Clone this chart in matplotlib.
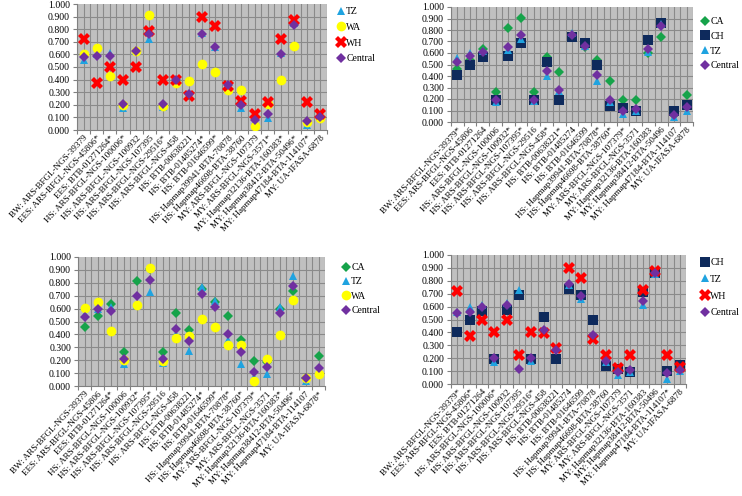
import matplotlib
matplotlib.use("Agg")
import matplotlib.pyplot as plt
import numpy as np

plt.rcParams["font.family"] = ["Liberation Serif", "DejaVu Serif"]

# 共通マーカー名 (アスタリスクはパネル毎に異なる)
markers_base = [
    "BW: ARS-BFGL-NGS-39379", "EES: ARS-BFGL-NGS-45806", "EES: BTB-01271264",
    "HS: ARS-BFGL-NGS-100006", "HS: ARS-BFGL-NGS-100932", "HS: ARS-BFGL-NGS-107395",
    "HS: ARS-BFGL-NGS-29516", "HS: ARS-BFGL-NGS-458", "HS: BTB-00638221",
    "HS: BTB-01485274", "HS: BTB-01646599", "HS: Hapmap39941-BTA-70878",
    "HS: Hapmap46698-BTA-38760", "MY: ARS-BFGL-NGS-107379", "MY: ARS-BFGL-NGS-3571",
    "MY: Hapmap32136-BTA-160383", "MY: Hapmap38412-BTA-50496",
    "MY: Hapmap47184-BTA-114107", "MY: UA-IFASA-6878",
]
star_tl = [0, 1, 1, 1, 0, 0, 1, 0, 0, 1, 1, 0, 0, 0, 1, 1, 1, 1, 0]
star_tr = [1, 0, 0, 0, 1, 1, 0, 1, 1, 0, 0, 1, 1, 1, 0, 0, 0, 0, 0]
star_bl = [0, 0, 1, 0, 1, 1, 0, 0, 0, 1, 1, 1, 1, 1, 0, 1, 1, 0, 1]
star_br = [1, 1, 0, 1, 0, 0, 1, 0, 0, 0, 0, 0, 0, 0, 0, 0, 0, 1, 0]

# 系列データ
tz = [0.557, 0.600, 0.615, 0.172, 0.630, 0.725, 0.180, 0.400, 0.270, 0.770,
      0.660, 0.360, 0.172, 0.070, 0.095, 0.612, 0.850, 0.040, 0.100]
wa = [0.602, 0.652, 0.430, 0.198, 0.630, 0.915, 0.190, 0.370, 0.385, 0.520,
      0.460, 0.315, 0.315, 0.035, 0.210, 0.395, 0.670, 0.065, 0.092]
wh = [0.724, 0.375, 0.500, 0.400, 0.500, 0.785, 0.400, 0.400, 0.268, 0.900,
      0.825, 0.350, 0.228, 0.125, 0.225, 0.725, 0.875, 0.225, 0.130]
wh_br = [0.724, 0.375, 0.500, 0.400, 0.500, 0.225, 0.400, 0.395, 0.280, 0.900,
         0.825, 0.345, 0.225, 0.125, 0.225, 0.725, 0.875, 0.225, 0.130]
ca = [0.460, 0.540, 0.632, 0.262, 0.815, 0.905, 0.262, 0.565, 0.433, 0.750,
      0.650, 0.540, 0.355, 0.195, 0.188, 0.600, 0.735, 0.060, 0.235]
ch = [0.405, 0.500, 0.568, 0.190, 0.570, 0.690, 0.190, 0.522, 0.190, 0.735,
      0.690, 0.500, 0.140, 0.120, 0.095, 0.715, 0.858, 0.100, 0.145]
central_tl = [0.583, 0.585, 0.585, 0.205, 0.625, 0.760, 0.210, 0.400, 0.285, 0.760,
              0.655, 0.355, 0.200, 0.080, 0.125, 0.605, 0.835, 0.070, 0.105]
central_tr = [0.520, 0.575, 0.610, 0.195, 0.655, 0.755, 0.195, 0.445, 0.280, 0.760,
              0.665, 0.410, 0.195, 0.100, 0.110, 0.635, 0.835, 0.065, 0.130]
central_bl = [0.535, 0.595, 0.580, 0.210, 0.695, 0.825, 0.210, 0.445, 0.350, 0.710,
              0.615, 0.405, 0.260, 0.105, 0.150, 0.565, 0.775, 0.065, 0.140]
central_br = [0.550, 0.560, 0.600, 0.205, 0.615, 0.115, 0.205, 0.420, 0.265, 0.775,
              0.685, 0.380, 0.180, 0.090, 0.110, 0.645, 0.860, 0.085, 0.110]

STYLE = {
    "TZ": dict(marker="^", color="#1FA3E0", ms=6),
    "WA": dict(marker="o", color="#FFFF00", ms=7),
    "WH": dict(marker="X", color="#FF0000", ms=8),
    "CA": dict(marker="D", color="#16A34A", ms=5),
    "CH": dict(marker="s", color="#0E2A5C", ms=7),
    "Central": dict(marker="D", color="#7030A0", ms=5.5),
}

W, H = 742, 496


def panel(fig, rect, series, stars, legend_xy, spacing):
    x0, y0, x1, y1 = rect
    ax = fig.add_axes([x0 / W, 1 - y1 / H, (x1 - x0) / W, (y1 - y0) / H])
    ax.set_facecolor("#C0C0C0")
    x = np.arange(len(markers_base))
    for name, vals in series:
        st = STYLE[name]
        ax.plot(x, vals, linestyle="none", marker=st["marker"], color=st["color"],
                markersize=st["ms"], markeredgewidth=0, label=name, zorder=3)
    ax.set_xlim(-0.5, len(markers_base) - 0.5)
    ax.set_ylim(0, 1)
    ax.set_yticks(np.arange(0, 1.001, 0.1))
    ax.set_yticklabels([f"{v:.3f}" for v in np.arange(0, 1.001, 0.1)], fontsize=7)
    ax.set_xticks(np.arange(-0.5, len(markers_base), 1.0))
    ax.set_xticklabels([])
    ax.set_xticks(x, minor=True)
    labels = [m + ("*" if s else "") for m, s in zip(markers_base, stars)]
    ax.set_xticklabels(labels, minor=True, rotation=47, ha="right",
                       rotation_mode="anchor", fontsize=6.6)
    ax.tick_params(axis="x", which="minor", length=0, pad=3)
    ax.tick_params(axis="x", which="major", length=3, color="#808080")
    ax.tick_params(axis="y", length=3, color="#808080", pad=2)
    for v in np.arange(-0.5, len(markers_base), 0.5):
        ax.axvline(v, color="#8A8A8A", lw=0.8, zorder=1)
    for v in np.arange(0.1, 1.0, 0.1):
        ax.axhline(v, color="#8A8A8A", lw=0.8, zorder=1)
    for sp in ["top", "right"]:
        ax.spines[sp].set_visible(False)
    ax.spines["left"].set_color("#808080")
    ax.spines["bottom"].set_color("#808080")
    lx, ly = legend_xy
    ax.legend(loc="upper left", bbox_to_anchor=(lx / W, 1 - ly / H),
              bbox_transform=fig.transFigure, frameon=False, fontsize=7,
              handlelength=0.8, handletextpad=0.15, labelspacing=spacing,
              borderaxespad=0, borderpad=0)
    return ax


fig = plt.figure(figsize=(W / 100, H / 100), dpi=100)

panel(fig, (77, 4, 327, 130),
      [("TZ", tz), ("WA", wa), ("WH", wh), ("Central", central_tl)],
      star_tl, (337, 7), 0.7)
panel(fig, (451, 7, 693, 122),
      [("CA", ca), ("CH", ch), ("TZ", tz), ("Central", central_tr)],
      star_tr, (701, 17), 0.6)
panel(fig, (78, 257, 325, 386),
      [("CA", ca), ("TZ", tz), ("WA", wa), ("Central", central_bl)],
      star_bl, (342, 263), 0.55)
panel(fig, (451, 255, 686, 384),
      [("CH", ch), ("TZ", tz), ("WH", wh_br), ("Central", central_br)],
      star_br, (701, 258), 0.8)

fig.savefig("out.png", dpi=100)
